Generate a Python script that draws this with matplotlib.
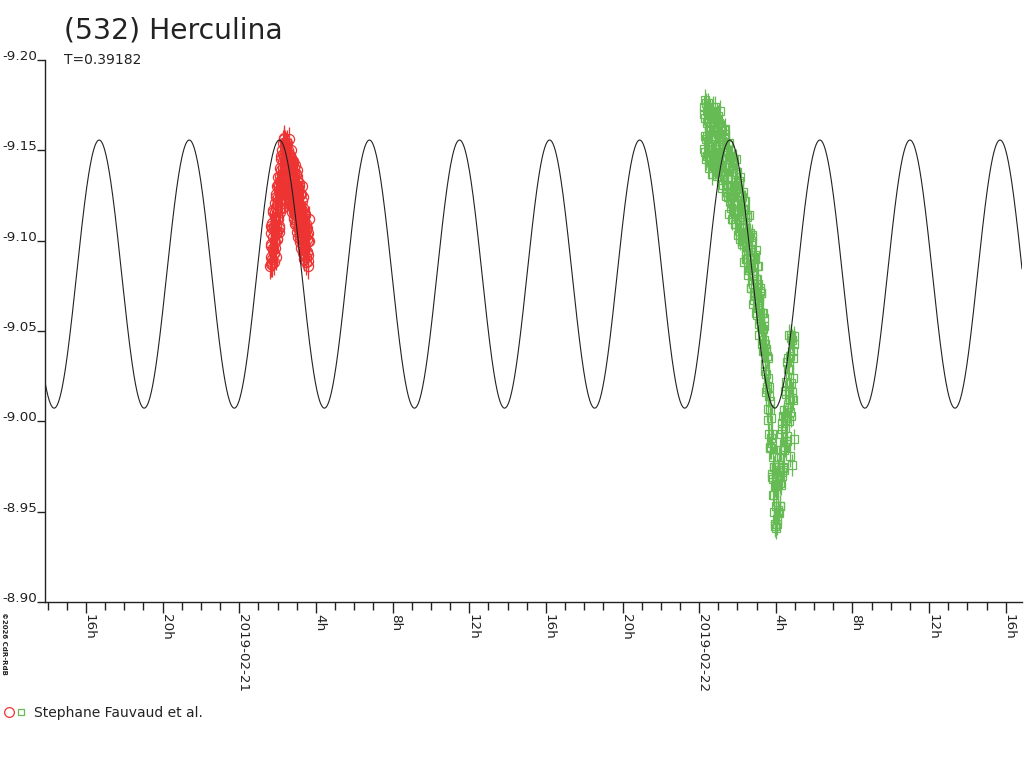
# Courbe de rotation (532) Herculina - reproduction matplotlib
import numpy as np
import matplotlib.pyplot as plt
from matplotlib.lines import Line2D
from matplotlib.legend_handler import HandlerTuple

# Temps en heures depuis 2019-02-21 00h
x_min, x_max = -10.14, 40.85

# Modele (periode en jours, double onde)
periode_j = 0.39182
mag_moy = -9.0815
amplitude = 0.0742
t_max = 2.09

# Serie rouge (2019-02-21), deux sous-series entrelacees
red_t_a = [1.62, 1.64, 1.66, 1.68, 1.70, 1.72, 1.74, 1.76, 1.78, 1.80, 1.82, 1.84,
           1.86, 1.88, 1.90, 1.92, 1.94, 1.96, 1.98, 2.00, 2.02, 2.04, 2.06, 2.08,
           2.10, 2.12, 2.14, 2.16, 2.18, 2.20, 2.22, 2.24, 2.26, 2.28, 2.30, 2.32,
           2.34, 2.36, 2.38, 2.40, 2.42, 2.44, 2.46, 2.48, 2.50, 2.52, 2.54, 2.56,
           2.58, 2.60, 2.62, 2.64, 2.66, 2.68, 2.70, 2.72, 2.74, 2.76, 2.78, 2.80,
           2.82, 2.84, 2.86, 2.88, 2.90, 2.92, 2.94, 2.96, 2.98, 3.00, 3.02, 3.04,
           3.06, 3.08, 3.10, 3.12, 3.14, 3.16, 3.18, 3.20, 3.22, 3.24, 3.26, 3.28,
           3.30, 3.32, 3.34, 3.36, 3.38, 3.40, 3.42, 3.44, 3.46, 3.48, 3.50, 3.52,
           3.54, 3.56, 3.58, 3.60, 3.62, 3.65]
red_mag_a = [-9.086, -9.097, -9.091, -9.104, -9.088, -9.110, -9.095, -9.102, -9.116, -9.093, -9.108, -9.121,
             -9.099, -9.113, -9.126, -9.104, -9.118, -9.130, -9.101, -9.124, -9.112, -9.135, -9.107, -9.128,
             -9.140, -9.116, -9.133, -9.145, -9.122, -9.139, -9.150, -9.128, -9.144, -9.154, -9.133, -9.157,
             -9.147, -9.130, -9.152, -9.139, -9.148, -9.127, -9.153, -9.135, -9.145, -9.124, -9.150, -9.132,
             -9.142, -9.122, -9.148, -9.129, -9.140, -9.119, -9.146, -9.126, -9.137, -9.116, -9.143, -9.123,
             -9.134, -9.113, -9.140, -9.120, -9.131, -9.109, -9.137, -9.117, -9.128, -9.105, -9.133, -9.114,
             -9.124, -9.102, -9.130, -9.110, -9.120, -9.099, -9.126, -9.107, -9.117, -9.096, -9.122, -9.104,
             -9.113, -9.093, -9.118, -9.100, -9.110, -9.090, -9.114, -9.097, -9.106, -9.088, -9.109, -9.094,
             -9.101, -9.086, -9.104, -9.092, -9.100, -9.112]
red_t_b = [1.63, 1.65, 1.67, 1.69, 1.71, 1.73, 1.75, 1.77, 1.79, 1.81, 1.83, 1.85,
           1.87, 1.89, 1.91, 1.93, 1.95, 1.97, 1.99, 2.01, 2.03, 2.05, 2.07, 2.09,
           2.11, 2.13, 2.15, 2.17, 2.19, 2.21, 2.23, 2.25, 2.27, 2.29, 2.31, 2.33,
           2.35, 2.37, 2.39, 2.41, 2.43, 2.45, 2.47, 2.49, 2.51, 2.53, 2.55, 2.57,
           2.59, 2.61, 2.63, 2.65, 2.67, 2.69, 2.71, 2.73, 2.75, 2.77, 2.79, 2.81,
           2.83, 2.85, 2.87, 2.89, 2.91, 2.93, 2.95, 2.97, 2.99, 3.01, 3.03, 3.05,
           3.07, 3.09, 3.11, 3.13, 3.15, 3.17, 3.19, 3.21, 3.23, 3.25, 3.27, 3.29,
           3.31, 3.33, 3.35, 3.37, 3.39, 3.41, 3.43, 3.45, 3.47, 3.49, 3.51, 3.53,
           3.55, 3.57, 3.59]
red_mag_b = [-9.098, -9.087, -9.108, -9.090, -9.087, -9.107, -9.096, -9.117, -9.093, -9.088, -9.107, -9.116,
             -9.096, -9.108, -9.091, -9.124, -9.105, -9.120, -9.101, -9.131, -9.113, -9.108, -9.130, -9.105,
             -9.126, -9.136, -9.118, -9.127, -9.147, -9.118, -9.137, -9.126, -9.148, -9.135, -9.156, -9.123,
             -9.147, -9.134, -9.154, -9.140, -9.126, -9.151, -9.136, -9.154, -9.130, -9.141, -9.125, -9.156,
             -9.131, -9.144, -9.121, -9.147, -9.134, -9.122, -9.150, -9.126, -9.136, -9.121, -9.144, -9.127,
             -9.112, -9.136, -9.123, -9.142, -9.115, -9.127, -9.137, -9.110, -9.129, -9.114, -9.139, -9.119,
             -9.107, -9.129, -9.115, -9.132, -9.101, -9.120, -9.108, -9.126, -9.108, -9.130, -9.101, -9.117,
             -9.101, -9.124, -9.108, -9.093, -9.114, -9.103, -9.115, -9.096, -9.107, -9.091, -9.103, -9.094,
             -9.107, -9.089, -9.100]
red_t = red_t_a + red_t_b
red_mag = red_mag_a + red_mag_b
red_err = 0.007

# Serie verte (2019-02-22, heures + 24), deux sous-series entrelacees
green_h_a = [0.24, 0.27, 0.30, 0.33, 0.36, 0.39, 0.42, 0.45, 0.48, 0.51, 0.54, 0.57,
             0.60, 0.63, 0.66, 0.69, 0.72, 0.75, 0.78, 0.81, 0.84, 0.87, 0.90, 0.93,
             0.96, 0.99, 1.02, 1.05, 1.08,
             1.11, 1.14, 1.17, 1.20, 1.23, 1.26, 1.29, 1.32, 1.35, 1.38, 1.41, 1.44,
             1.47, 1.50, 1.53, 1.56, 1.59, 1.62, 1.65, 1.68, 1.71, 1.74, 1.77, 1.80,
             1.83, 1.86, 1.89, 1.92, 1.95, 1.98, 2.01, 2.04, 2.07, 2.10, 2.13, 2.16,
             2.19, 2.22, 2.25, 2.28, 2.31, 2.34, 2.37, 2.40, 2.43, 2.46, 2.49, 2.52,
             2.55, 2.58, 2.61, 2.64, 2.67, 2.70, 2.73, 2.76, 2.79, 2.82, 2.85, 2.88,
             2.91, 2.94, 2.97, 3.00, 3.03, 3.06, 3.09, 3.12, 3.15, 3.18, 3.21, 3.24,
             3.27, 3.30, 3.33, 3.36, 3.39, 3.42, 3.45, 3.48, 3.51, 3.54, 3.57,
             3.60, 3.63, 3.66, 3.69, 3.72, 3.75, 3.78, 3.81, 3.84, 3.87, 3.90, 3.93,
             3.96, 3.99, 4.02, 4.05, 4.08, 4.11, 4.14, 4.17, 4.20, 4.23, 4.26, 4.29,
             4.32, 4.35, 4.38,
             4.41, 4.44, 4.47, 4.50, 4.53, 4.56, 4.59, 4.62, 4.65, 4.68, 4.71, 4.74,
             4.77, 4.80, 4.83, 4.86, 4.89, 4.92, 4.95, 4.72, 4.84, 4.97]
green_mag_a = [-9.174, -9.151, -9.168, -9.158, -9.176, -9.147, -9.165, -9.155, -9.172, -9.144, -9.161, -9.170,
               -9.150, -9.166, -9.142, -9.158, -9.171, -9.148, -9.163, -9.140, -9.156, -9.168, -9.145, -9.160,
               -9.138, -9.153, -9.165, -9.142, -9.158,
               -9.140, -9.163, -9.145, -9.155, -9.131, -9.149, -9.156, -9.137, -9.159, -9.130, -9.141, -9.150,
               -9.134, -9.153, -9.124, -9.142, -9.126, -9.147, -9.131, -9.118, -9.140, -9.124, -9.143, -9.117,
               -9.130, -9.137, -9.109, -9.129, -9.115, -9.138, -9.117, -9.121, -9.132, -9.107, -9.101, -9.122,
               -9.112, -9.124, -9.098, -9.113, -9.100, -9.122, -9.101, -9.115, -9.090, -9.104, -9.090, -9.113,
               -9.095, -9.084, -9.102, -9.104, -9.085, -9.074, -9.094, -9.102, -9.076, -9.081, -9.091, -9.067,
               -9.090, -9.070, -9.079, -9.063, -9.086, -9.066, -9.076, -9.054, -9.068, -9.074, -9.053, -9.071,
               -9.051, -9.043, -9.060, -9.045, -9.057, -9.032, -9.043, -9.026, -9.039, -9.018, -9.024,
               -9.007, -9.019, -8.993, -9.006, -8.985, -9.002, -8.971, -8.988, -8.959, -8.980, -8.950, -8.975,
               -8.942, -8.964, -8.941, -8.970, -8.946, -8.973, -8.951, -8.980, -8.953, -8.984, -8.965, -8.993,
               -8.970, -8.996, -8.975,
               -9.006, -8.984, -9.017, -8.986, -9.015, -8.989, -9.033, -9.008, -9.035, -9.000, -9.048, -9.012,
               -9.046, -9.003, -9.045, -9.013, -9.039, -9.012, -9.043, -8.981, -8.976, -8.990]
green_h_b = [0.255, 0.285, 0.315, 0.345, 0.375, 0.405, 0.435, 0.465, 0.495, 0.525, 0.555, 0.585,
             0.615, 0.645, 0.675, 0.705, 0.735, 0.765, 0.795, 0.825, 0.855, 0.885, 0.915, 0.945,
             0.975, 1.005, 1.035, 1.065, 1.095,
             1.125, 1.155, 1.185, 1.215, 1.245, 1.275, 1.305, 1.335, 1.365, 1.395, 1.425, 1.455,
             1.485, 1.515, 1.545, 1.575, 1.605, 1.635, 1.665, 1.695, 1.725, 1.755, 1.785, 1.815,
             1.845, 1.875, 1.905, 1.935, 1.965, 1.995, 2.025, 2.055, 2.085, 2.115, 2.145, 2.175,
             2.205, 2.235, 2.265, 2.295, 2.325, 2.355, 2.385, 2.415, 2.445, 2.475, 2.505, 2.535,
             2.565, 2.595, 2.625, 2.655, 2.685, 2.715, 2.745, 2.775, 2.805, 2.835, 2.865, 2.895,
             2.925, 2.955, 2.985, 3.015, 3.045, 3.075, 3.105, 3.135, 3.165, 3.195, 3.225, 3.255,
             3.285, 3.315, 3.345, 3.375, 3.405, 3.435, 3.465, 3.495, 3.525, 3.555, 3.585,
             3.615, 3.645, 3.675, 3.705, 3.735, 3.765, 3.795, 3.825, 3.855, 3.885, 3.915, 3.945,
             3.975, 4.005, 4.035, 4.065, 4.095, 4.125, 4.155, 4.185, 4.215, 4.245, 4.275, 4.305,
             4.335, 4.365, 4.395,
             4.425, 4.455, 4.485, 4.515, 4.545, 4.575, 4.605, 4.635, 4.665, 4.695, 4.725, 4.755,
             4.785, 4.815, 4.845, 4.875, 4.905, 4.935]
green_mag_b = [-9.170, -9.149, -9.178, -9.156, -9.145, -9.172, -9.158, -9.176, -9.149, -9.140, -9.163, -9.172,
               -9.146, -9.158, -9.137, -9.174, -9.149, -9.166, -9.142, -9.174, -9.151, -9.144, -9.167, -9.136,
               -9.159, -9.169, -9.145, -9.151, -9.172,
               -9.146, -9.138, -9.161, -9.129, -9.152, -9.161, -9.136, -9.142, -9.162, -9.125, -9.145, -9.127,
               -9.150, -9.131, -9.154, -9.115, -9.142, -9.124, -9.147, -9.130, -9.112, -9.142, -9.124, -9.145,
               -9.116, -9.128, -9.109, -9.145, -9.116, -9.130, -9.103, -9.133, -9.117, -9.103, -9.135, -9.107,
               -9.118, -9.100, -9.127, -9.105, -9.088, -9.117, -9.100, -9.122, -9.090, -9.102, -9.114, -9.081,
               -9.104, -9.084, -9.114, -9.090, -9.074, -9.100, -9.082, -9.103, -9.065, -9.087, -9.071, -9.092,
               -9.071, -9.095, -9.060, -9.079, -9.059, -9.086, -9.067, -9.048, -9.072, -9.057, -9.071, -9.047,
               -9.060, -9.039, -9.051, -9.039, -9.053, -9.028, -9.040, -9.016, -9.036, -9.019, -9.035,
               -9.001, -9.014, -8.986, -9.011, -8.985, -8.991, -8.969, -8.993, -8.968, -8.959, -8.975, -8.943,
               -8.964, -8.953, -8.969, -8.943, -8.965, -8.950, -8.975, -8.949, -8.966, -8.953, -8.984, -8.972,
               -8.999, -8.974, -9.003,
               -8.973, -9.003, -9.001, -8.989, -9.022, -9.002, -8.992, -9.029, -9.016, -9.029, -9.005, -9.036,
               -9.021, -9.048, -9.016, -9.035, -9.024, -9.047]
green_t = [h + 24 for h in green_h_a + green_h_b]
green_mag = green_mag_a + green_mag_b
green_err = 0.006

# Axes
y_ticks = [-9.20, -9.15, -9.10, -9.05, -9.00, -8.95, -8.90]
x_ticks = [-8, -4, 0, 4, 8, 12, 16, 20, 24, 28, 32, 36, 40]
x_labels = ['16h', '20h', '2019-02-21', '4h', '8h', '12h',
            '16h', '20h', '2019-02-22', '4h', '8h', '12h', '16h']
x_minor = list(range(-10, 41))

rouge = '#ee3333'
vert = '#66bb55'
encre = '#222222'

fig = plt.figure(figsize=(10.24, 7.68), dpi=100)
ax = fig.add_axes([45/1024, 166/768, 977/1024, 542/768])

# courbe du modele
t = np.linspace(x_min, x_max, 3000)
mag = mag_moy - amplitude*np.cos(4*np.pi*(t - t_max)/(periode_j*24))

ax.errorbar(red_t, red_mag, yerr=red_err, fmt='o', ms=7.3, mfc='none', mec=rouge,
            mew=0.9, ecolor=rouge, elinewidth=0.9, capsize=0, zorder=2)
ax.errorbar(green_t, green_mag, yerr=green_err, fmt='s', ms=5.5, mfc='none', mec=vert,
            mew=0.9, ecolor=vert, elinewidth=0.9, capsize=0, zorder=2)
ax.plot(t, mag, color=encre, lw=0.8, zorder=3)

ax.set_xlim(x_min, x_max)
ax.set_ylim(-8.90, -9.20)
for s in ['top', 'right']:
    ax.spines[s].set_visible(False)
for s in ['left', 'bottom']:
    ax.spines[s].set_color(encre)
    ax.spines[s].set_linewidth(1)

ax.set_yticks(y_ticks)
ax.set_yticklabels(['%.2f' % v for v in y_ticks])
ax.tick_params(axis='y', direction='out', length=5.8, width=1, pad=0,
               labelsize=9.7, colors=encre)
for lbl in ax.get_yticklabels():
    lbl.set_verticalalignment('baseline')

ax.set_xticks(x_ticks)
ax.set_xticks(x_minor, minor=True)
ax.set_xticklabels(x_labels, rotation=-90, rotation_mode='anchor',
                   ha='left', va='baseline')
ax.tick_params(axis='x', which='major', direction='out', length=8, width=1,
               pad=1, labelsize=9.7, colors=encre)
ax.tick_params(axis='x', which='minor', direction='out', length=5.8, width=1,
               colors=encre)

# textes
fig.text(64.5/1024, 1 - 39/768, '(532) Herculina', fontsize=20.3, color=encre,
         va='baseline', ha='left')
fig.text(64.5/1024, 1 - 64/768, 'T=0.39182', fontsize=10, color=encre,
         va='baseline', ha='left')
fig.text(1/1024, 1 - 612/768, '\u00a92026 CdR-RdB', fontsize=5, color=encre,
         rotation=-90, va='top', ha='left', fontweight='bold')

# legende
h_r = Line2D([], [], ls='none', marker='o', ms=7, mfc='none', mec=rouge, mew=0.9)
h_v = Line2D([], [], ls='none', marker='s', ms=5, mfc='none', mec=vert, mew=0.9)
fig.legend(handles=[(h_r, h_v)], labels=['Stephane Fauvaud et al.'],
           handler_map={tuple: HandlerTuple(ndivide=None, pad=0)},
           loc='center left', bbox_to_anchor=(3.2/1024, 1 - 713/768),
           bbox_transform=fig.transFigure, frameon=False, borderpad=0,
           borderaxespad=0, handlelength=1.75, handletextpad=0.46,
           fontsize=10, labelcolor=encre)

fig.savefig('out.png', dpi=100)
